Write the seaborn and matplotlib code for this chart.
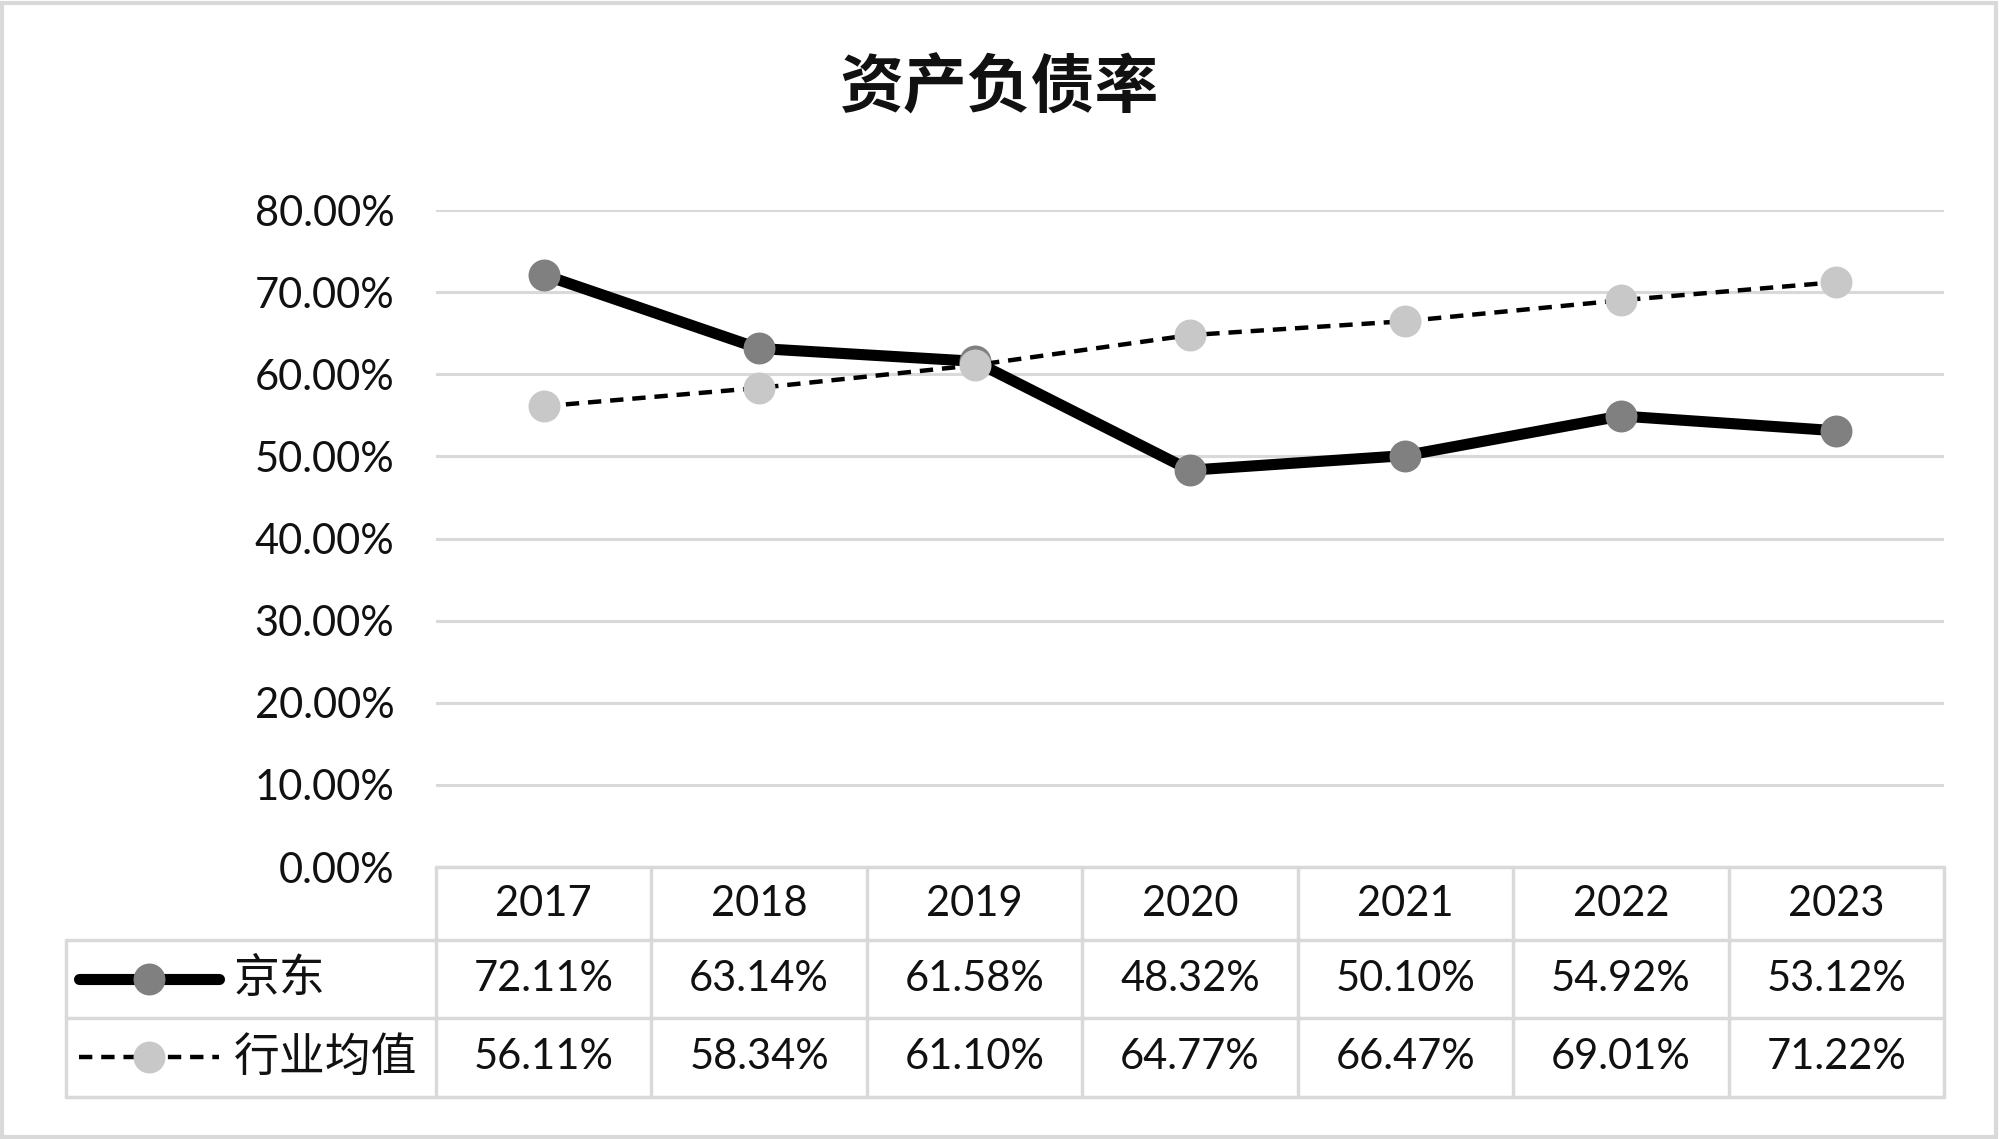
import numpy as np
import pandas as pd
import matplotlib
matplotlib.use('Agg')
import matplotlib.pyplot as plt
from matplotlib.patches import Rectangle
import seaborn as sns

# Data
years = ['2017', '2018', '2019', '2020', '2021', '2022', '2023']
jd = [72.11, 63.14, 61.58, 48.32, 50.10, 54.92, 53.12]
industry = [56.11, 58.34, 61.10, 64.77, 66.47, 69.01, 71.22]
series_names = ['京东', '行业均值']
title = '资产负债率'

sns.set_style('white')
plt.rcParams['font.family'] = ['Lato', 'Noto Sans CJK SC', 'DejaVu Sans']
plt.rcParams['text.color'] = '#111111'
plt.rcParams['ytick.color'] = '#111111'

df = pd.DataFrame({'year': years, '京东': jd, '行业均值': industry})
df['x'] = np.arange(len(years))

fig = plt.figure(figsize=(20, 11.39), dpi=100)

# plot area
ax = fig.add_axes([0.218, 0.2388, 0.754, 0.5768])
grid_c = '#d9d9d9'
for v in np.arange(0, 81, 10):
    ax.axhline(v, color=grid_c, lw=2.2, zorder=0)

styles = {
    '京东': dict(color='black', lw=8, ls='-', mfc='#808080'),
    '行业均值': dict(color='black', lw=3.2, ls=(0, (3, 2)), mfc='#c8c8c8'),
}
for name in series_names:
    st = styles[name]
    sns.lineplot(data=df, x='x', y=name, ax=ax, color=st['color'], lw=st['lw'],
                 linestyle=st['ls'], marker='o', markersize=23,
                 markerfacecolor=st['mfc'], markeredgewidth=0, zorder=3)

ax.set_xlim(-0.5, len(years) - 0.5)
ax.set_ylim(0, 80)
ax.set_yticks(np.arange(0, 81, 10))
ax.set_yticklabels([f'{v:.2f}%' for v in np.arange(0, 81, 10)], fontsize=30)
ax.tick_params(axis='y', length=0, pad=30)
ax.set_xticks([])
ax.set_xlabel('')
ax.set_ylabel('')
for s in ax.spines.values():
    s.set_visible(False)

fig.text(0.5, 0.922, title, ha='center', va='center', fontsize=46,
         fontweight='bold', family=['Noto Sans CJK SC'])

# data table below
left_units = (436 - 66) / ((1944 - 436) / len(years))
tx = fig.add_axes([0.033, 0.0369, 0.939, 0.2019])
tx.set_xlim(-0.5 - left_units, len(years) - 0.5)
tx.set_ylim(3, 0)
tx.axis('off')
row_y = [0, 73 / 230 * 3, 151 / 230 * 3, 3]
lc = '#d9d9d9'
lw_t = 2.5
xl, x0, xr = -0.5 - left_units, -0.5, len(years) - 0.5
tx.plot([x0, xr], [row_y[0]] * 2, color=lc, lw=lw_t, clip_on=False)
for r in row_y[1:]:
    tx.plot([xl, xr], [r, r], color=lc, lw=lw_t, clip_on=False)
for i in range(len(years) + 1):
    tx.plot([x0 + i] * 2, [row_y[0], row_y[3]], color=lc, lw=lw_t, clip_on=False)
tx.plot([xl, xl], [row_y[1], row_y[3]], color=lc, lw=lw_t, clip_on=False)

def mid(k):
    return (row_y[k] + row_y[k + 1]) / 2

for i, y in enumerate(years):
    tx.text(i, mid(0), y, ha='center', va='center', fontsize=30)
for k, vals in enumerate([jd, industry]):
    for i, v in enumerate(vals):
        tx.text(i, mid(k + 1), f'{v:.2f}%', ha='center', va='center', fontsize=30)

# legend keys in the table
u = (1944 - 436) / len(years)
for k, name in enumerate(series_names):
    st = styles[name]
    ls0 = xl + (79 - 66) / u
    ls1 = xl + (219 - 66) / u
    tx.plot([ls0, ls1], [mid(k + 1)] * 2, color=st['color'], lw=st['lw'],
            linestyle=st['ls'], solid_capstyle='round', clip_on=False)
    tx.plot([(ls0 + ls1) / 2], [mid(k + 1)], marker='o', markersize=23,
            markerfacecolor=st['mfc'], markeredgewidth=0, clip_on=False)
    tx.text(xl + (234 - 66) / u, mid(k + 1), name, ha='left', va='center',
            fontsize=33, family=['Noto Sans CJK SC'])

fig.patches.append(Rectangle((0.001, 0.002), 0.997, 0.995, transform=fig.transFigure,
                             fill=False, edgecolor='#d9d9d9', lw=3))

fig.savefig('out.png', dpi=100)
